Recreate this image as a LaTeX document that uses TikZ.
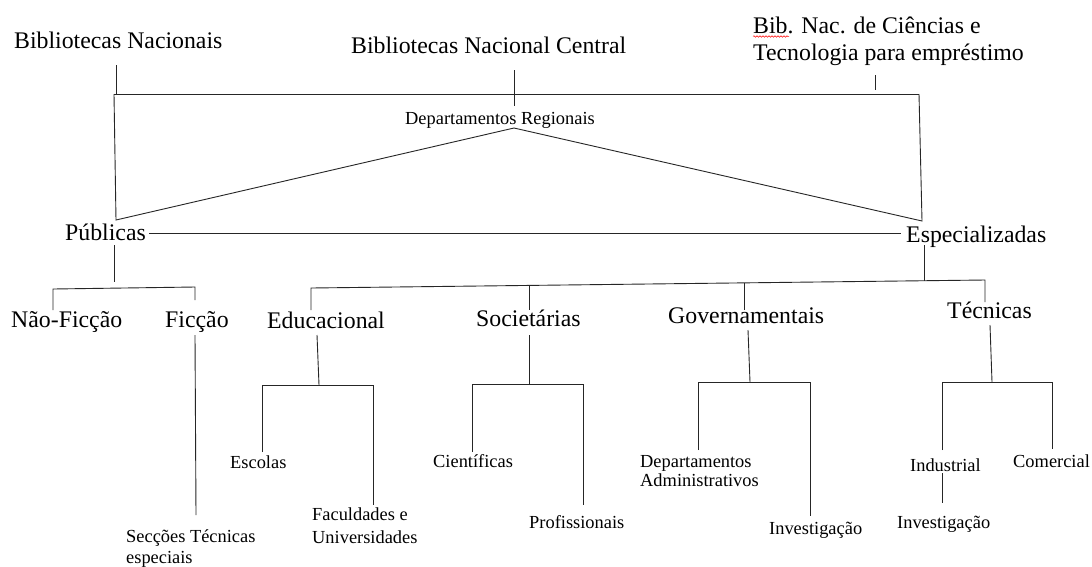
\documentclass[tikz,border=0pt]{standalone}
\usepackage{fontspec}
\setmainfont{Liberation Serif}
\usetikzlibrary{decorations.pathmorphing}
\begin{document}
\begin{tikzpicture}[x=1pt,y=-1pt,
  big/.style={anchor=base west, inner sep=0pt, font=\fontsize{23.8}{27}\selectfont},
  small/.style={anchor=base west, inner sep=0pt, font=\fontsize{18.4}{21}\selectfont},
  ln/.style={draw=black!85, line width=0.9pt}]
\useasboundingbox[fill=white] (0,0) rectangle (1092,566);

% ---- text nodes (multi-line nodes: base = baseline of last line)
\node[big] (bn)  at (14,48)  {Bibliotecas Nacionais};
\node[big] (bnc) at (351,53) {Bibliotecas Nacional Central};
\node[big, align=left] (bnct) at (753,60) {Bib. Nac. de Ciências e\\Tecnologia para empréstimo};
\node[small] (dr) at (405,124) {Departamentos Regionais};
\node[big] (pub) at (65,240)  {Públicas};
\node[big] (esp) at (906,242) {Especializadas};
\node[big] (nf)  at (11,327)  {Não-Ficção};
\node[big] (fic) at (165,327) {Ficção};
\node[big] (edu) at (267,328) {Educacional};
\node[big] (soc) at (476,326) {Societárias};
\node[big] (gov) at (668,323) {Governamentais};
\node[big] (tec) at (947,318) {Técnicas};
\node[small] (esc) at (230,468) {Escolas};
\node[small, align=left, font=\fontsize{18.4}{23}\selectfont] (fac) at (312,543) {Faculdades e\\Universidades};
\node[small] (cie) at (433,467) {Científicas};
\node[small] (pro) at (529,528) {Profissionais};
\node[small, align=left, font=\fontsize{18.4}{19}\selectfont] (dep) at (640,486) {Departamentos\\Administrativos};
\node[small] (inv1) at (769,534) {Investigação};
\node[small] (ind) at (910,471) {Industrial};
\node[small] (inv2) at (897,528) {Investigação};
\node[small] (com) at (1013,467) {Comercial};
\node[small, align=left] (sec) at (126,563) {Secções Técnicas\\especiais};

% spell-check squiggle under "Bib"
\draw[red, line width=0.5pt, decorate, decoration={snake, amplitude=0.8pt, segment length=3pt}] (753,36.5) -- (789,36.5);

% ---- junction coordinates
\coordinate (tl) at (114,94);
\coordinate (tr) at (919,94);
\coordinate (apex) at (514,128);
\coordinate (pl) at (116,220);
\coordinate (pr) at (922,221);

% top frame
\draw[ln] (116,65) -- (116,94);
\draw[ln] (tl) -- (tr);
\draw[ln] (514,70) -- (514,106);
\draw[ln] (875,75) -- (875,90);
\draw[ln] (tl) -- (pl) -- (apex) -- (pr) -- (tr);

% Publicas - Especializadas
\draw[ln] (149,233) -- (901,233);

% Publicas branch
\draw[ln] (114,245) -- (114,282);
\draw[ln] (53,310) -- (53,289) -- (195,287) -- (195,300);
\draw[ln] (195,335) -- (196,515);

% Especializadas branch
\draw[ln] (924,245) -- (924,280.5);
\draw[ln] (311,310) -- (311,288) -- (985,280) -- (985,302);
\draw[ln] (529,285) -- (529,310);
\draw[ln] (744,283) -- (744,310);

% Educacional
\draw[ln] (317,335) -- (319,385);
\draw[ln] (262,452) -- (262,385) -- (373,385) -- (373,505);
% Societarias
\draw[ln] (529,335) -- (529,384);
\draw[ln] (472,452) -- (472,384) -- (583,384) -- (583,505);
% Governamentais
\draw[ln] (748,330) -- (750,382);
\draw[ln] (698,450) -- (698,382) -- (810,382) -- (810,516);
% Tecnicas
\draw[ln] (990,325) -- (992,382);
\draw[ln] (942,450) -- (942,382) -- (1052,382) -- (1052,449);
\draw[ln] (942,473) -- (942,503);
\end{tikzpicture}
\end{document}
